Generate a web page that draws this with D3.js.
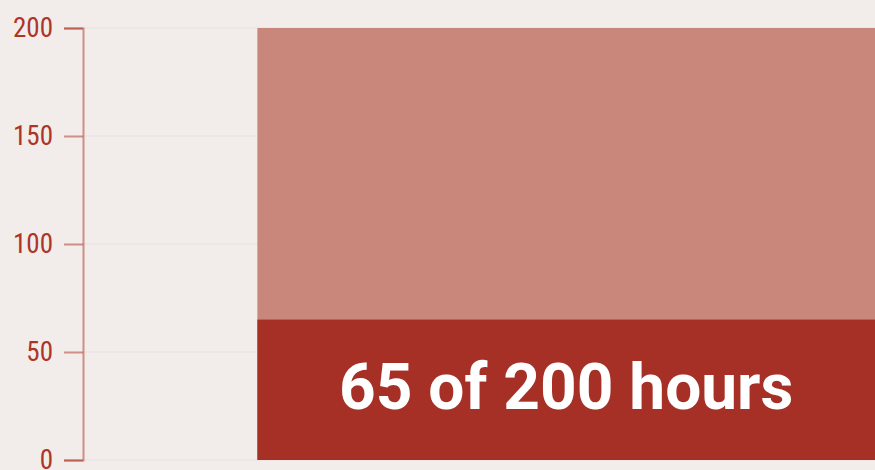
<!DOCTYPE html>
<html>
<head>
<meta charset="utf-8">
<script src="https://cdn.jsdelivr.net/npm/d3@7"></script>
<style>
	body { margin: 0; background: #f2edeb; }
	svg { display: block; }
	.axis text { font-family: "Roboto Condensed", "Liberation Sans Narrow", Roboto, sans-serif; font-size: 27px; fill: #ad3528; }
	.axis path, .axis line { stroke: #a93226; stroke-opacity: 0.5; stroke-width: 2; }
	.grid line { stroke: #ede6e4; stroke-width: 2; }
	.label { font-family: Roboto, sans-serif; font-weight: 700; font-size: 64px; fill: #fff; }
</style>
</head>
<body>
<div id="chart"></div>
<script>

// data
// ----------------------------------------

var categories = ["hours"];
var total = [200];
var done = [65];
var yTicks = [0, 50, 100, 150, 200];
var unit = "hours";

// main variables
// ----------------------------------------

var width = 875,
	height = 470;

var margin = {top: 28, right: 0, bottom: 10, left: 83};

var svg = d3.select("#chart")
	.append("svg")
	.attr("width", width)
	.attr("height", height);

var y = d3.scaleLinear()
	.domain([0, 200])
	.range([height - margin.bottom, margin.top]);

// the plot runs past the right edge, the bar is cut by the window
var x = d3.scaleBand()
	.domain(categories)
	.range([margin.left, 1050])
	.padding(0.22);

// grid
svg.append("g")
	.attr("class", "grid")
	.selectAll("line")
	.data(yTicks)
	.enter()
	.append("line")
	.attr("x1", margin.left)
	.attr("x2", width)
	.attr("y1", function(d){ return y(d); })
	.attr("y2", function(d){ return y(d); });

// total (light) bar
svg.append("g")
	.selectAll("rect")
	.data(categories)
	.enter()
	.append("rect")
	.attr("x", function(d){ return x(d); })
	.attr("width", x.bandwidth())
	.attr("y", function(d,i){ return y(total[i]); })
	.attr("height", function(d,i){ return y(0) - y(total[i]); })
	.attr("fill", "#c9877c");

// done (dark) bar
svg.append("g")
	.selectAll("rect")
	.data(categories)
	.enter()
	.append("rect")
	.attr("x", function(d){ return x(d); })
	.attr("width", x.bandwidth())
	.attr("y", function(d,i){ return y(done[i]); })
	.attr("height", function(d,i){ return y(0) - y(done[i]); })
	.attr("fill", "#a63025");

// label, centred on the visible part of the bar
svg.append("g")
	.selectAll("text")
	.data(categories)
	.enter()
	.append("text")
	.attr("class", "label")
	.attr("x", function(d){ return (x(d) + Math.min(width, x(d) + x.bandwidth())) / 2; })
	.attr("y", function(d,i){ return (y(done[i]) + y(0)) / 2; })
	.attr("dy", "0.3em")
	.attr("text-anchor", "middle")
	.text(function(d,i){ return done[i] + " of " + total[i] + " " + unit; });

// axis
svg.append("g")
	.attr("class", "axis")
	.attr("transform", "translate(" + margin.left + ",0)")
	.call(d3.axisLeft(y)
		.tickValues(yTicks)
		.tickSize(19)
		.tickPadding(11)
	);

</script>
</body>
</html>
